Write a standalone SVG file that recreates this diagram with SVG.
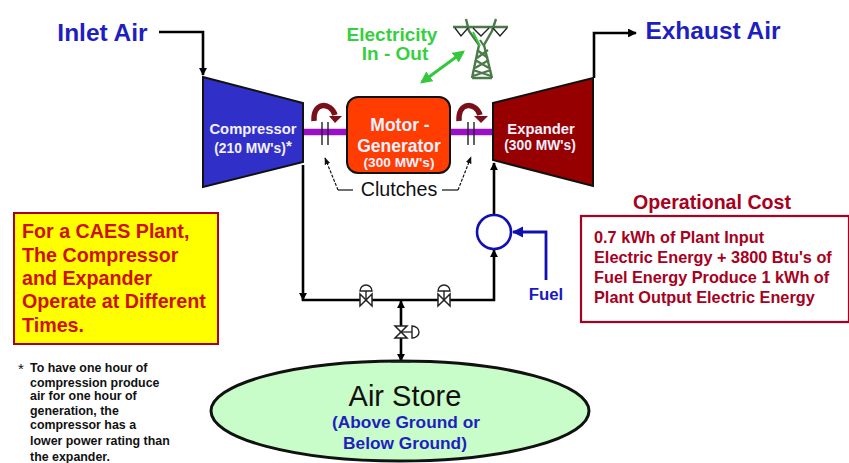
<svg xmlns="http://www.w3.org/2000/svg" width="849" height="463" viewBox="0 0 849 463">
<style>
text{font-family:"Liberation Sans",Arial,sans-serif;font-weight:700;text-anchor:middle}
.l{text-anchor:start}
.w{fill:#f4f0ff}
.blue{fill:#1f1fc0}
.red{fill:#a80020}
.dr{fill:#cc1100}
.line{fill:none;stroke:#000;stroke-width:2.6}
.thin{fill:none;stroke:#111;stroke-width:1.2}
.shaft{stroke:#9a10c8;stroke-width:6.5;fill:none}
.cl{stroke:#222;stroke-width:1.4}
.turn{fill:none;stroke:#7a0f1c;stroke-width:5.5}
</style>
<defs>
<marker id="a" viewBox="0 0 10 10" refX="9" refY="5" markerWidth="3.2" markerHeight="3.2" orient="auto-start-reverse"><path d="M0 0L10 5L0 10z" fill="#000"/></marker>
<marker id="e" viewBox="0 0 10 10" refX="9" refY="5" markerWidth="4" markerHeight="3.4" orient="auto"><path d="M0 0L10 5L0 10z" fill="#000"/></marker>
<marker id="b" viewBox="0 0 10 10" refX="9" refY="5" markerWidth="4" markerHeight="4" orient="auto"><path d="M0 0L10 5L0 10z" fill="#1010b0"/></marker>
<marker id="g" viewBox="0 0 10 10" refX="8" refY="5" markerWidth="4" markerHeight="4" orient="auto-start-reverse"><path d="M0 0L10 5L0 10z" fill="#35c83c"/></marker>
<marker id="s" viewBox="0 0 10 10" refX="9" refY="5" markerWidth="6" markerHeight="6" orient="auto"><path d="M0 1L10 5L0 9z" fill="#111"/></marker>
<g id="valve"><path d="M-6 -6L6 6V-6L-6 6z" fill="#fff" stroke="#222" stroke-width="1.5"/><path d="M0 0V-9M-6 -9A6 6 0 0 1 6 -9z" fill="#fff" stroke="#222" stroke-width="1.4"/></g>
</defs>
<rect width="849" height="463" fill="#fff"/>
<g id="connectors">
<path class="line" d="M159 32H203V75" marker-end="url(#a)"/>
<path class="line" d="M594 78V33H636" marker-end="url(#e)"/>
<path class="line" d="M303 165V300" marker-end="url(#a)"/>
<path class="line" d="M301.700 300H494V250" marker-end="url(#a)"/>
<path class="line" d="M494 215V163" marker-end="url(#a)"/>
<path class="line" d="M401 301V361" marker-start="url(#a)" marker-end="url(#a)"/>
<path d="M401 332H412" stroke="#222" stroke-width="1.3"/>
<path d="M546 280V232H513" fill="none" stroke="#1010b0" stroke-width="2.8" marker-end="url(#b)"/>
<path d="M422 82L463 52" fill="none" stroke="#35c83c" stroke-width="3" marker-start="url(#g)" marker-end="url(#g)"/>
<path class="shaft" d="M303 132H347M450 132H493"/>
<path d="M353 190H338" class="thin"/><path class="thin" d="M338 190L325 158" marker-end="url(#s)" stroke-dasharray="3 1.500"/>
<path d="M442 190H458" class="thin"/><path class="thin" d="M458 190L471 157" marker-end="url(#s)" stroke-dasharray="3 1.500"/>
</g>
<g id="compressor"><path d="M203 77L303 103V162L203 187z" fill="#3030c8" stroke="#111" stroke-width="2"/><text x="253" y="134" class="w" font-size="14.800">Compressor</text><text x="250" y="153" class="w" font-size="13.800">(210 MW's)</text><text x="289" y="151" class="w" font-size="15">*</text></g>
<g id="expander"><path d="M493 103L593 78V186L493 160z" fill="#960000" stroke="#111" stroke-width="2"/><text x="541" y="134" class="w" font-size="14.800">Expander</text><text x="540" y="150" class="w" font-size="13.800">(300 MW's)</text></g>
<g id="motor-generator"><rect x="347" y="97" width="103" height="76" rx="11" fill="#ff3d00" stroke="#111" stroke-width="2"/><text x="400" y="131" class="w" font-size="17.500">Motor -</text><text x="399" y="152" class="w" font-size="17.500">Generator</text><text x="399" y="167" class="w" font-size="13.700">(300 MW's)</text></g>
<g id="clutch-left"><path class="cl" d="M322 122V145M328 122V145"/><path class="turn" d="M314 121C313 101 331 102 335 115"/><path d="M329 116H342L335 123z" fill="#7a0f1c"/></g>
<g id="clutch-right"><path class="cl" d="M468 122V145M474 122V145"/><path class="turn" d="M459 121C458 101 476 102 480 115"/><path d="M474 116H488L481 123z" fill="#7a0f1c"/></g>
<text x="399" y="196" font-size="19.700" style="font-weight:400" fill="#111">Clutches</text>
<text x="102.500" y="41" font-size="24.500" class="blue">Inlet Air</text>
<text x="713" y="39" font-size="24.500" class="blue">Exhaust Air</text>
<text x="392" y="41" font-size="19" fill="#35d040">Electricity</text>
<text x="395" y="60" font-size="19" fill="#35d040">In - Out</text>
<g id="tower" fill="none" stroke="#4a7a4a" stroke-width="2">
<path d="M453 27L508 27M466 19L469 31L479 45L472 78M496 19L492 31L484 45L492 78M472 78H492" stroke-width="2.400"/>
<path d="M477 50L488 58M488 50L477 58M475 60L489 68M489 60L475 68M473 70L491 76M491 70L473 76M480 40L484 46" stroke-width="2.200"/>
<path d="M473 32L480 46" stroke="#35c83c"/>
<path d="M455 28L461 36L468 28M473 28L481 36L489 28M493 28L500 36L507 28" stroke="#222" stroke-width="1.400"/>
</g>
<g id="fuel-heater"><circle cx="494" cy="232" r="17" fill="#fff" stroke="#1010b0" stroke-width="2.600"/></g>
<text x="546" y="300" font-size="16.800" fill="#1a1ac0">Fuel</text>
<use href="#valve" x="366" y="300"/>
<use href="#valve" x="444" y="300"/>
<g id="valve-store"><path d="M395 326H407L395 338H407z" fill="#fff" stroke="#222" stroke-width="1.500"/><path d="M412 326A7 6 0 0 1 412 338z" fill="#fff" stroke="#222" stroke-width="1.400"/></g>
<g id="air-store"><ellipse cx="400" cy="411" rx="189" ry="50" fill="#c8fcc8" stroke="#111" stroke-width="3"/><path d="M391 362H411" stroke="#222" stroke-width="1.300"/><text x="405" y="406" font-size="29" style="font-weight:400" fill="#111">Air Store</text><text x="406" y="428" font-size="17.300" class="blue">(Above Ground or</text><text x="405" y="449" font-size="17.300" class="blue">Below Ground)</text></g>
<g id="note-caes"><rect x="14" y="213" width="204" height="131" fill="#ffff00" stroke="#a80020" stroke-width="2"/>
<text class="l dr" x="22" y="238" font-size="19.700">For a CAES Plant,</text><text class="l dr" x="22" y="262" font-size="19.700">The Compressor</text><text class="l dr" x="22" y="285" font-size="19.700">and Expander</text><text class="l dr" x="22" y="308" font-size="19.700">Operate at Different</text><text class="l dr" x="22" y="332" font-size="19.700">Times.</text></g>
<g id="footnote" fill="#111"><text class="l" x="18" y="374" font-size="15" style="font-weight:400">*</text>
<text class="l" x="30" y="372" font-size="12.400">To have one hour of</text><text class="l" x="30" y="387" font-size="12.400">compression produce</text><text class="l" x="30" y="400" font-size="12.400">air for one hour of</text><text class="l" x="30" y="415" font-size="12.400">generation, the</text><text class="l" x="30" y="429" font-size="12.400">compressor has a</text><text class="l" x="30" y="445" font-size="12.400">lower power rating than</text><text class="l" x="30" y="461" font-size="12.400">the expander.</text></g>
<text x="712" y="209" font-size="19.600" class="red">Operational Cost</text>
<g id="operational-cost"><rect x="581" y="216" width="268" height="106" fill="#fff" stroke="#a80020" stroke-width="2.200"/>
<text class="l red" x="594" y="243" font-size="16.300">0.7 kWh of Plant Input</text><text class="l red" x="594" y="263" font-size="16.300">Electric Energy + 3800 Btu's of</text><text class="l red" x="594" y="283" font-size="16.300">Fuel Energy Produce 1 kWh of</text><text class="l red" x="594" y="303" font-size="16.300">Plant Output Electric Energy</text></g>
</svg>
